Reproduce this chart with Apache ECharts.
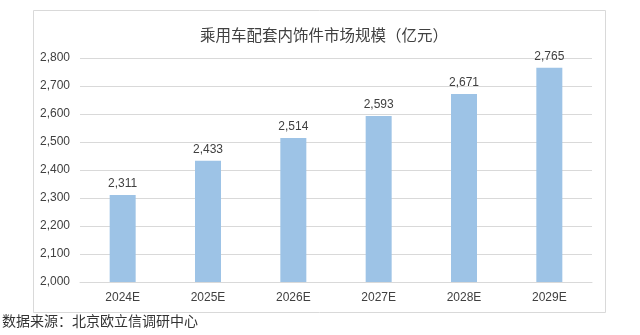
<!DOCTYPE html>
<html>
<head>
<meta charset="utf-8">
<script src="https://cdn.jsdelivr.net/npm/echarts@6/dist/echarts.min.js"></script>
<style>
html,body{margin:0;padding:0;background:#fff;}
#c{width:640px;height:335px;}
</style>
</head>
<body>
<div id="c"></div>
<script>
const categories = ['2024E','2025E','2026E','2027E','2028E','2029E'];
const values = [2311, 2433, 2514, 2593, 2671, 2765];
const yTicks = {min: 2000, max: 2800, interval: 100};
const titleText = '乘用车配套内饰件市场规模（亿元）';
const sourceText = '数据来源：北京欧立信调研中心';

const fmt = v => Number(v).toLocaleString('en-US');
const chart = echarts.init(document.getElementById('c'), null, {renderer: 'canvas'});
chart.setOption({
  backgroundColor: '#fff',
  animation: false,
  title: {
    text: titleText,
    left: 319, top: 22, textAlign: 'center',
    textStyle: {fontFamily: '"Noto Sans CJK SC", sans-serif', fontSize: 15.5, fontWeight: 'normal', color: '#404040'}
  },
  graphic: [
    {type: 'rect', shape: {x: 33.5, y: 10.5, width: 572, height: 302}, style: {fill: 'none', stroke: '#d9d9d9', lineWidth: 1}, z: -1},
    {type: 'text', left: 2, top: 314, style: {text: sourceText, font: '14px "Noto Sans CJK SC", sans-serif', fill: '#333'}}
  ],
  grid: {left: 80, right: 48, top: 58, bottom: 53, containLabel: false},
  xAxis: {
    type: 'category', data: categories,
    axisLine: {lineStyle: {color: '#d9d9d9'}},
    axisTick: {show: false},
    axisLabel: {color: '#404040', fontSize: 12, fontFamily: '"Liberation Sans Narrow", "Liberation Sans", Arial, sans-serif', margin: 10}
  },
  yAxis: {
    type: 'value', min: yTicks.min, max: yTicks.max, interval: yTicks.interval,
    axisLine: {show: false}, axisTick: {show: false},
    splitLine: {lineStyle: {color: '#d9d9d9'}},
    axisLabel: {color: '#404040', fontSize: 12, fontFamily: '"Liberation Sans Narrow", "Liberation Sans", Arial, sans-serif', margin: 10, formatter: v => fmt(v)}
  },
  series: [{
    type: 'bar', data: values, barWidth: 26,
    itemStyle: {color: '#9dc3e6'},
    label: {show: true, position: 'top', distance: 5, color: '#404040', fontSize: 12,
      fontFamily: '"Liberation Sans Narrow", "Liberation Sans", Arial, sans-serif', formatter: p => fmt(p.value)}
  }]
});
</script>
</body>
</html>
